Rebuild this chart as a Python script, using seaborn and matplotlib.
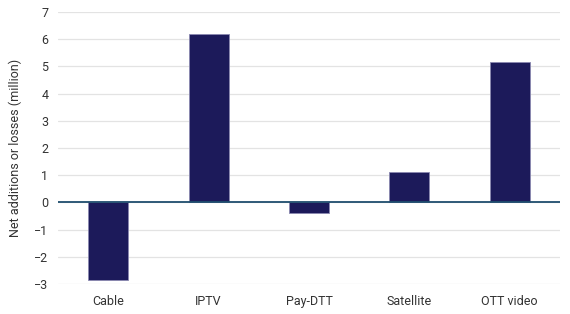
import matplotlib
matplotlib.use("Agg")
import matplotlib.pyplot as plt
import seaborn as sns
import pandas as pd

categories = ["Cable", "IPTV", "Pay-DTT", "Satellite", "OTT video"]
values = [-2.87, 6.2, -0.39, 1.13, 5.15]
yticks = [-3, -2, -1, 0, 1, 2, 3, 4, 5, 6, 7]
ylabel = "Net additions or losses (million)"

sns.set_theme(style="white")
plt.rcParams["font.family"] = ["Roboto", "DejaVu Sans"]

df = pd.DataFrame({"category": categories, "value": values})

fig = plt.figure(figsize=(5.7, 3.14), dpi=100)
ax = fig.add_axes([0.102, 0.0955, 0.880, 0.866])
sns.barplot(data=df, x="category", y="value", color="#1c1a5a", width=0.4,
            saturation=1, edgecolor="#8a88b0", linewidth=0.6, ax=ax, zorder=3)

ax.set_ylim(-3, 7)
ax.set_yticks(yticks)
ax.set_yticklabels([str(t).replace("-", "\u2212") for t in yticks])
ax.set_xlim(-0.5, 4.5)
ax.yaxis.grid(True, color="#e3e3e3", linewidth=0.9, zorder=0)
ax.set_axisbelow(True)
ax.axhline(0, color="#1f4e6e", linewidth=1.3, zorder=4)
for s in ax.spines.values():
    s.set_visible(False)
ax.tick_params(axis="y", length=0, labelsize=9, colors="#333333", pad=7)
ax.tick_params(axis="x", length=0, labelsize=9, colors="#333333", pad=8)
ax.set_xlabel("")
ax.set_ylabel(ylabel, fontsize=9, color="#333333", labelpad=9)

fig.savefig("out.png", dpi=100)
